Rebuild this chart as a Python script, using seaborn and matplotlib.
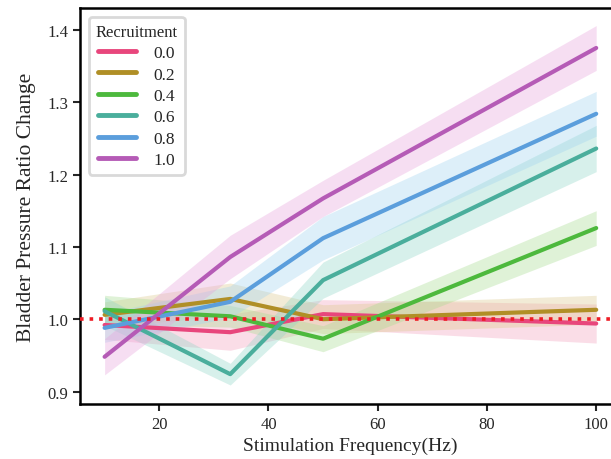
import matplotlib
matplotlib.use("Agg")
import matplotlib.pyplot as plt
import seaborn as sns
import pandas as pd
import numpy as np

freq = [10, 33, 50, 100]
recruitment = ["0.0", "0.2", "0.4", "0.6", "0.8", "1.0"]

ratio_00 = [0.992, 0.982, 1.007, 0.994]
ratio_02 = [1.006, 1.028, 1.000, 1.013]
ratio_04 = [1.013, 1.004, 0.973, 1.126]
ratio_06 = [1.011, 0.924, 1.054, 1.236]
ratio_08 = [0.988, 1.024, 1.112, 1.284]
ratio_10 = [0.948, 1.086, 1.167, 1.375]

ci_00 = [0.020, 0.025, 0.020, 0.027]
ci_02 = [0.018, 0.022, 0.020, 0.020]
ci_04 = [0.020, 0.015, 0.018, 0.024]
ci_06 = [0.020, 0.015, 0.025, 0.032]
ci_08 = [0.020, 0.022, 0.030, 0.031]
ci_10 = [0.025, 0.030, 0.025, 0.031]

colors = ["#e8467c", "#b08f26", "#4db93d", "#4aae9c", "#5b9edc", "#b55bb6"]
band_colors = ["#f2a0bd", "#dcc88a", "#a6dc8e", "#8fd6c6", "#9fd3f0", "#e8a2dc"]

means = [ratio_00, ratio_02, ratio_04, ratio_06, ratio_08, ratio_10]
cis = [ci_00, ci_02, ci_04, ci_06, ci_08, ci_10]

rows = []
for r, m, c in zip(recruitment, means, cis):
    for f, v, e in zip(freq, m, c):
        rows.append({"Frequency": f, "Ratio": v, "ci": e, "Recruitment": r})
df = pd.DataFrame(rows)

sns.set_style("ticks")
plt.rcParams['font.family'] = ['Liberation Serif', 'DejaVu Serif']

fig = plt.figure(figsize=(6.11, 4.6), dpi=100)
ax = fig.add_axes([0.131, 0.12, 0.885, 0.86])

sns.lineplot(data=df, x="Frequency", y="Ratio", hue="Recruitment",
             palette=colors, linewidth=3, errorbar=None, ax=ax)

for (r, sub), col in zip(df.groupby("Recruitment", sort=False), band_colors):
    ax.fill_between(sub["Frequency"], sub["Ratio"] - sub["ci"],
                    sub["Ratio"] + sub["ci"], color=col, alpha=0.35, lw=0)

ax.axhline(1.0, color="#ee1c25", linestyle=":", linewidth=2.6, zorder=5)

ax.set_xlim(5.5, 104.5)
ax.set_ylim(0.883, 1.430)
ax.set_xticks([20, 40, 60, 80, 100])
ax.set_yticks([0.9, 1.0, 1.1, 1.2, 1.3, 1.4])
ax.set_xlabel("Stimulation Frequency(Hz)", fontsize=14)
ax.set_ylabel("Bladder Pressure Ratio Change", fontsize=15.5, labelpad=8)
ax.tick_params(labelsize=12, width=1.5, length=5)
for s in ax.spines.values():
    s.set_linewidth(1.8)
    s.set_color("black")

leg = ax.legend(title="Recruitment", loc="upper left", fontsize=12.5,
                title_fontsize=12, frameon=True, fancybox=True,
                labelspacing=0.3, handlelength=2.2, handletextpad=1.0)
leg.get_frame().set_edgecolor("#d0d0d0")
leg.get_frame().set_linewidth(2)
for h in leg.legend_handles:
    h.set_linewidth(3.5)

fig.savefig("out.png", dpi=100)
